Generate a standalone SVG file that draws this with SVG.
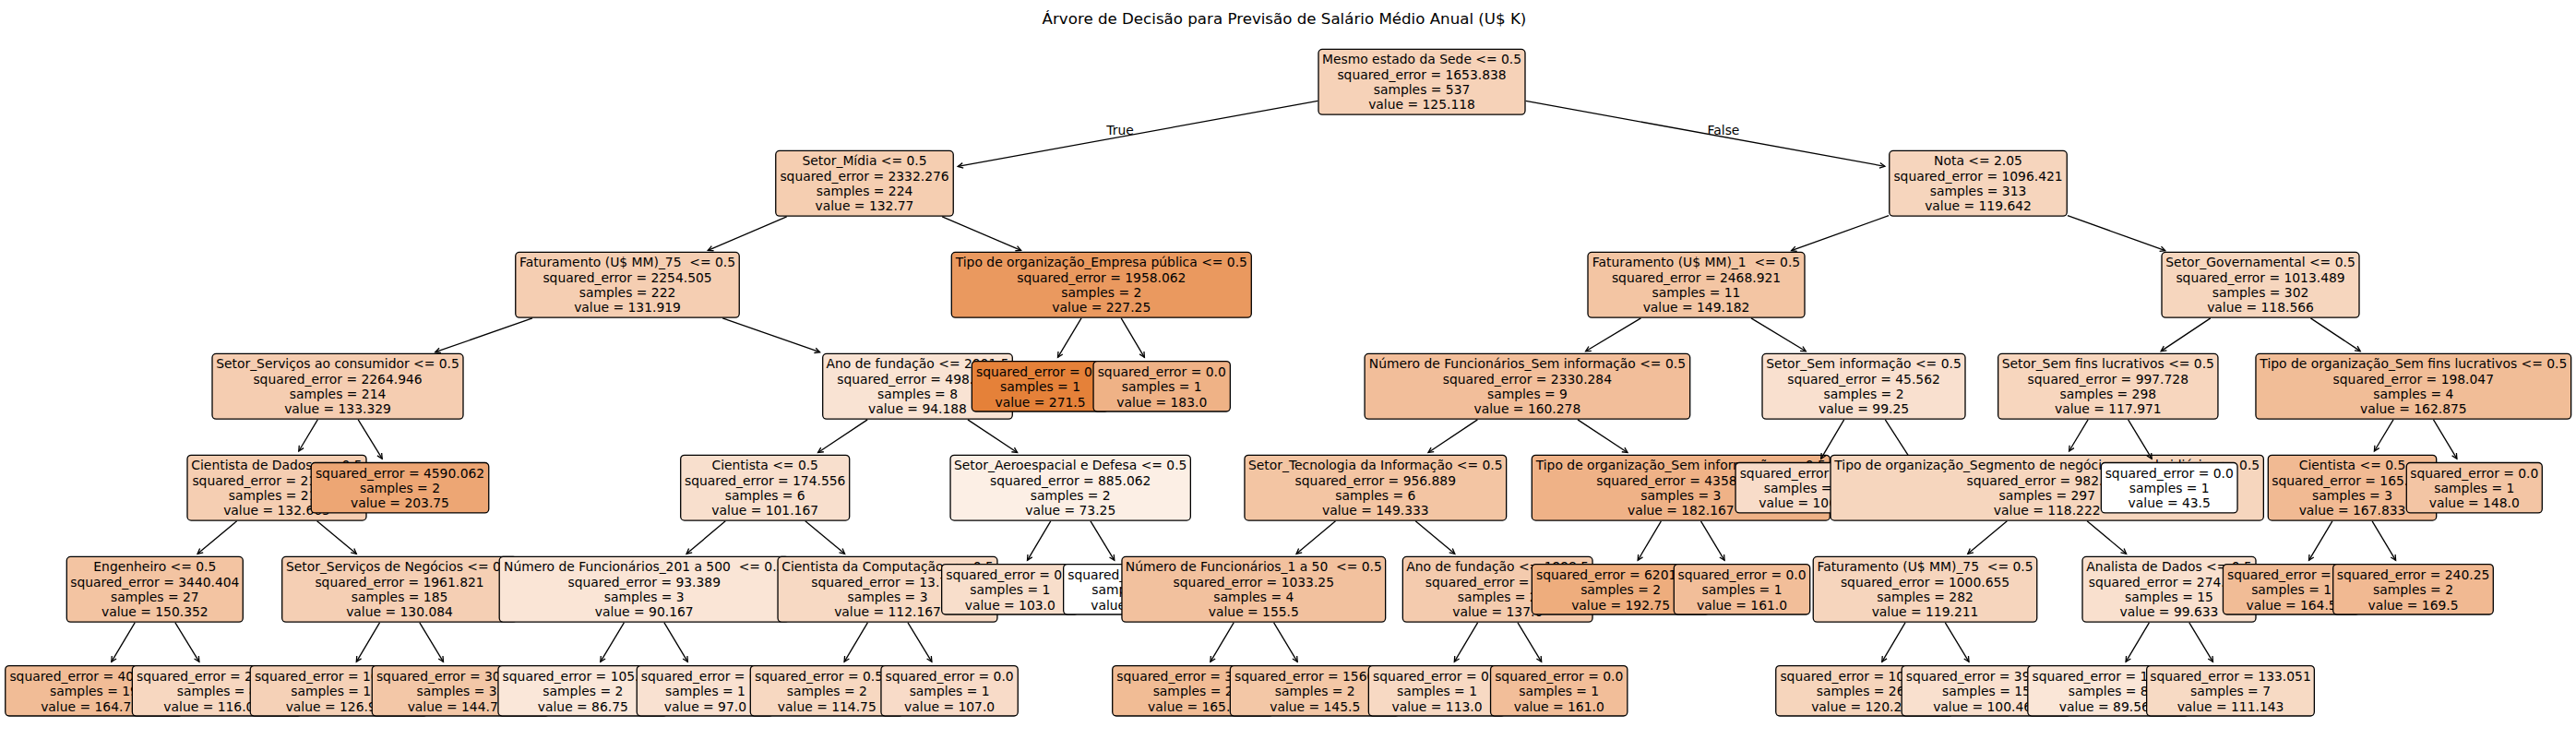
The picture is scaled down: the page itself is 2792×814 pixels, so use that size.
<svg xmlns="http://www.w3.org/2000/svg" width="2792" height="814" viewBox="0 0 2792 814">
<style>
text { font-family: "DejaVu Sans", "Liberation Sans", sans-serif; font-size: 13.89px; fill: #000; white-space: pre; }
.nd text { text-anchor: middle; }
.nd rect { stroke: #000; stroke-width: 1.3; }
.title { font-size: 16.67px; text-anchor: middle; }
.lbl { text-anchor: middle; }
#edges line { stroke: #000; stroke-width: 1.3; fill: none; marker-end: url(#ah); }
#edges line.cut { marker-end: none; }
</style>
<defs>
<marker id="ah" markerUnits="userSpaceOnUse" orient="auto" refX="0" refY="0" markerWidth="12" markerHeight="12" overflow="visible">
<path d="M-5.6,-2.8 L0,0 L-5.6,2.8" fill="none" stroke="#000" stroke-width="1.3"/>
</marker>
</defs>
<rect width="2792" height="814" fill="#fff"/>
<text class="title" x="1392" y="26">Árvore de Decisão para Previsão de Salário Médio Anual (U$ K)</text>
<g id="nodes">
<g id="n0" class="nd" transform="translate(1541,88.8)"><rect x="-112" y="-35.4" width="224" height="70.8" rx="4.2" fill="#f6d2b8"/><text y="-19.4">Mesmo estado da Sede &lt;= 0.5</text><text y="-3.1">squared_error = 1653.838</text><text y="13.2">samples = 537</text><text y="29.5">value = 125.118</text></g>
<g id="n1" class="nd" transform="translate(937,198.8)"><rect x="-96.25" y="-35.4" width="192.5" height="70.8" rx="4.2" fill="#f5ceb1"/><text y="-19.4">Setor_Mídia &lt;= 0.5</text><text y="-3.1">squared_error = 2332.276</text><text y="13.2">samples = 224</text><text y="29.5">value = 132.77</text></g>
<g id="n2" class="nd" transform="translate(680,308.8)"><rect x="-121.25" y="-35.4" width="242.5" height="70.8" rx="4.2" fill="#f5ceb2"/><text y="-19.4">Faturamento (U$ MM)_75  &lt;= 0.5</text><text y="-3.1">squared_error = 2254.505</text><text y="13.2">samples = 222</text><text y="29.5">value = 131.919</text></g>
<g id="n3" class="nd" transform="translate(366,418.8)"><rect x="-136" y="-35.4" width="272" height="70.8" rx="4.2" fill="#f5cdb1"/><text y="-19.4">Setor_Serviços ao consumidor &lt;= 0.5</text><text y="-3.1">squared_error = 2264.946</text><text y="13.2">samples = 214</text><text y="29.5">value = 133.329</text></g>
<g id="n4" class="nd" transform="translate(300,528.7)"><rect x="-97" y="-35.4" width="194" height="70.8" rx="4.2" fill="#f5ceb2"/><text y="-19.4">Cientista de Dados &lt;= 0.5</text><text y="-3.1">squared_error = 2195.785</text><text y="13.2">samples = 212</text><text y="29.5">value = 132.665</text></g>
<g id="n5" class="nd" transform="translate(167.8,638.8)"><rect x="-95.5" y="-35.4" width="191" height="70.8" rx="4.2" fill="#f3c4a2"/><text y="-19.4">Engenheiro &lt;= 0.5</text><text y="-3.1">squared_error = 3440.404</text><text y="13.2">samples = 27</text><text y="29.5">value = 150.352</text></g>
<g id="n6" class="nd" transform="translate(102,748.8)"><rect x="-96.25" y="-27.2" width="192.5" height="54.4" rx="4.2" fill="#f1bc96"/><text y="-10.8">squared_error = 4080.371</text><text y="5.5">samples = 19</text><text y="21.8">value = 164.789</text></g>
<g id="n7" class="nd" transform="translate(235.2,748.8)"><rect x="-91.85" y="-27.2" width="183.7" height="54.4" rx="4.2" fill="#f7d7c0"/><text y="-10.8">squared_error = 250.934</text><text y="5.5">samples = 8</text><text y="21.8">value = 116.064</text></g>
<g id="n8" class="nd" transform="translate(433,638.8)"><rect x="-127.3" y="-35.4" width="254.6" height="70.8" rx="4.2" fill="#f5cfb4"/><text y="-19.4">Setor_Serviços de Negócios &lt;= 0.5</text><text y="-3.1">squared_error = 1961.821</text><text y="13.2">samples = 185</text><text y="29.5">value = 130.084</text></g>
<g id="n9" class="nd" transform="translate(367.5,748.8)"><rect x="-96.25" y="-27.2" width="192.5" height="54.4" rx="4.2" fill="#f5d1b7"/><text y="-10.8">squared_error = 1668.947</text><text y="5.5">samples = 152</text><text y="21.8">value = 126.908</text></g>
<g id="n10" class="nd" transform="translate(499.5,748.8)"><rect x="-96.25" y="-27.2" width="192.5" height="54.4" rx="4.2" fill="#f3c7a7"/><text y="-10.8">squared_error = 3052.118</text><text y="5.5">samples = 33</text><text y="21.8">value = 144.713</text></g>
<g id="n11" class="nd" transform="translate(433.5,528.7)"><rect x="-96.25" y="-27.2" width="192.5" height="54.4" rx="4.2" fill="#eda674"/><text y="-10.8">squared_error = 4590.062</text><text y="5.5">samples = 2</text><text y="21.8">value = 203.75</text></g>
<g id="n12" class="nd" transform="translate(994.5,418.8)"><rect x="-102.8" y="-35.4" width="205.6" height="70.8" rx="4.2" fill="#f9e3d3"/><text y="-19.4">Ano de fundação &lt;= 2001.5</text><text y="-3.1">squared_error = 498.309</text><text y="13.2">samples = 8</text><text y="29.5">value = 94.188</text></g>
<g id="n13" class="nd" transform="translate(829.2,528.7)"><rect x="-91.5" y="-35.4" width="183" height="70.8" rx="4.2" fill="#f8dfcd"/><text y="-19.4">Cientista &lt;= 0.5</text><text y="-3.1">squared_error = 174.556</text><text y="13.2">samples = 6</text><text y="29.5">value = 101.167</text></g>
<g id="n14" class="nd" transform="translate(698.2,638.8)"><rect x="-157" y="-35.4" width="314" height="70.8" rx="4.2" fill="#fae5d6"/><text y="-19.4">Número de Funcionários_201 a 500  &lt;= 0.5</text><text y="-3.1">squared_error = 93.389</text><text y="13.2">samples = 3</text><text y="29.5">value = 90.167</text></g>
<g id="n15" class="nd" transform="translate(631.8,748.8)"><rect x="-91.85" y="-27.2" width="183.7" height="54.4" rx="4.2" fill="#fae7d9"/><text y="-10.8">squared_error = 105.062</text><text y="5.5">samples = 2</text><text y="21.8">value = 86.75</text></g>
<g id="n16" class="nd" transform="translate(764.4,748.8)"><rect x="-74.15" y="-27.2" width="148.3" height="54.4" rx="4.2" fill="#f9e1d1"/><text y="-10.8">squared_error = 0.0</text><text y="5.5">samples = 1</text><text y="21.8">value = 97.0</text></g>
<g id="n17" class="nd" transform="translate(962,638.8)"><rect x="-118.95" y="-35.4" width="237.9" height="70.8" rx="4.2" fill="#f7d9c3"/><text y="-19.4">Cientista da Computação &lt;= 0.5</text><text y="-3.1">squared_error = 13.722</text><text y="13.2">samples = 3</text><text y="29.5">value = 112.167</text></g>
<g id="n18" class="nd" transform="translate(896.3,748.8)"><rect x="-83" y="-27.2" width="166" height="54.4" rx="4.2" fill="#f7d8c1"/><text y="-10.8">squared_error = 0.562</text><text y="5.5">samples = 2</text><text y="21.8">value = 114.75</text></g>
<g id="n19" class="nd" transform="translate(1029.1,748.8)"><rect x="-74.15" y="-27.2" width="148.3" height="54.4" rx="4.2" fill="#f8dbc8"/><text y="-10.8">squared_error = 0.0</text><text y="5.5">samples = 1</text><text y="21.8">value = 107.0</text></g>
<g id="n20" class="nd" transform="translate(1160.2,528.7)"><rect x="-130.15" y="-35.4" width="260.3" height="70.8" rx="4.2" fill="#fcefe5"/><text y="-19.4">Setor_Aeroespacial e Defesa &lt;= 0.5</text><text y="-3.1">squared_error = 885.062</text><text y="13.2">samples = 2</text><text y="29.5">value = 73.25</text></g>
<g id="n21" class="nd" transform="translate(1094.8,638.8)"><rect x="-74.15" y="-27.2" width="148.3" height="54.4" rx="4.2" fill="#f8decb"/><text y="-10.8">squared_error = 0.0</text><text y="5.5">samples = 1</text><text y="21.8">value = 103.0</text></g>
<g id="n22" class="nd" transform="translate(1226.8,638.8)"><rect x="-74.15" y="-27.2" width="148.3" height="54.4" rx="4.2" fill="#ffffff"/><text y="-10.8">squared_error = 0.0</text><text y="5.5">samples = 1</text><text y="21.8">value = 43.5</text></g>
<g id="n23" class="nd" transform="translate(1193.8,308.8)"><rect x="-162.5" y="-35.4" width="325" height="70.8" rx="4.2" fill="#ea995f"/><text y="-19.4">Tipo de organização_Empresa pública &lt;= 0.5</text><text y="-3.1">squared_error = 1958.062</text><text y="13.2">samples = 2</text><text y="29.5">value = 227.25</text></g>
<g id="n24" class="nd" transform="translate(1127.5,418.8)"><rect x="-74.15" y="-27.2" width="148.3" height="54.4" rx="4.2" fill="#e58139"/><text y="-10.8">squared_error = 0.0</text><text y="5.5">samples = 1</text><text y="21.8">value = 271.5</text></g>
<g id="n25" class="nd" transform="translate(1259.2,418.8)"><rect x="-74.15" y="-27.2" width="148.3" height="54.4" rx="4.2" fill="#efb286"/><text y="-10.8">squared_error = 0.0</text><text y="5.5">samples = 1</text><text y="21.8">value = 183.0</text></g>
<g id="n26" class="nd" transform="translate(2144,198.8)"><rect x="-96.25" y="-35.4" width="192.5" height="70.8" rx="4.2" fill="#f6d5bd"/><text y="-19.4">Nota &lt;= 2.05</text><text y="-3.1">squared_error = 1096.421</text><text y="13.2">samples = 313</text><text y="29.5">value = 119.642</text></g>
<g id="n27" class="nd" transform="translate(1838.5,308.8)"><rect x="-117.5" y="-35.4" width="235" height="70.8" rx="4.2" fill="#f3c5a3"/><text y="-19.4">Faturamento (U$ MM)_1  &lt;= 0.5</text><text y="-3.1">squared_error = 2468.921</text><text y="13.2">samples = 11</text><text y="29.5">value = 149.182</text></g>
<g id="n28" class="nd" transform="translate(1655.4,418.8)"><rect x="-176.3" y="-35.4" width="352.6" height="70.8" rx="4.2" fill="#f2be9a"/><text y="-19.4">Número de Funcionários_Sem informação &lt;= 0.5</text><text y="-3.1">squared_error = 2330.284</text><text y="13.2">samples = 9</text><text y="29.5">value = 160.278</text></g>
<g id="n29" class="nd" transform="translate(1490.8,528.7)"><rect x="-141.85" y="-35.4" width="283.7" height="70.8" rx="4.2" fill="#f3c5a3"/><text y="-19.4">Setor_Tecnologia da Informação &lt;= 0.5</text><text y="-3.1">squared_error = 956.889</text><text y="13.2">samples = 6</text><text y="29.5">value = 149.333</text></g>
<g id="n30" class="nd" transform="translate(1358.8,638.8)"><rect x="-142.85" y="-35.4" width="285.7" height="70.8" rx="4.2" fill="#f2c19e"/><text y="-19.4">Número de Funcionários_1 a 50  &lt;= 0.5</text><text y="-3.1">squared_error = 1033.25</text><text y="13.2">samples = 4</text><text y="29.5">value = 155.5</text></g>
<g id="n31" class="nd" transform="translate(1293.1,748.8)"><rect x="-87.4" y="-27.2" width="174.8" height="54.4" rx="4.2" fill="#f1bc95"/><text y="-10.8">squared_error = 306.25</text><text y="5.5">samples = 2</text><text y="21.8">value = 165.5</text></g>
<g id="n32" class="nd" transform="translate(1425.2,748.8)"><rect x="-91.85" y="-27.2" width="183.7" height="54.4" rx="4.2" fill="#f3c7a6"/><text y="-10.8">squared_error = 1560.25</text><text y="5.5">samples = 2</text><text y="21.8">value = 145.5</text></g>
<g id="n33" class="nd" transform="translate(1623.2,638.8)"><rect x="-102.85" y="-35.4" width="205.7" height="70.8" rx="4.2" fill="#f4cbae"/><text y="-19.4">Ano de fundação &lt;= 1998.5</text><text y="-3.1">squared_error = 576.0</text><text y="13.2">samples = 2</text><text y="29.5">value = 137.0</text></g>
<g id="n34" class="nd" transform="translate(1557.5,748.8)"><rect x="-74.15" y="-27.2" width="148.3" height="54.4" rx="4.2" fill="#f7d9c3"/><text y="-10.8">squared_error = 0.0</text><text y="5.5">samples = 1</text><text y="21.8">value = 113.0</text></g>
<g id="n35" class="nd" transform="translate(1689.7,748.8)"><rect x="-74.15" y="-27.2" width="148.3" height="54.4" rx="4.2" fill="#f2be99"/><text y="-10.8">squared_error = 0.0</text><text y="5.5">samples = 1</text><text y="21.8">value = 161.0</text></g>
<g id="n36" class="nd" transform="translate(1821.8,528.7)"><rect x="-161.5" y="-35.4" width="323" height="70.8" rx="4.2" fill="#efb287"/><text y="-19.4">Tipo de organização_Sem informação &lt;= 0.5</text><text y="-3.1">squared_error = 4358.375</text><text y="13.2">samples = 3</text><text y="29.5">value = 182.167</text></g>
<g id="n37" class="nd" transform="translate(1756.6,638.8)"><rect x="-96.25" y="-27.2" width="192.5" height="54.4" rx="4.2" fill="#eead7d"/><text y="-10.8">squared_error = 6201.562</text><text y="5.5">samples = 2</text><text y="21.8">value = 192.75</text></g>
<g id="n38" class="nd" transform="translate(1888,638.8)"><rect x="-73.7" y="-27.2" width="147.4" height="54.4" rx="4.2" fill="#f2be99"/><text y="-10.8">squared_error = 0.0</text><text y="5.5">samples = 1</text><text y="21.8">value = 161.0</text></g>
<g id="n39" class="nd" transform="translate(2020,418.8)"><rect x="-110" y="-35.4" width="220" height="70.8" rx="4.2" fill="#f9e0cf"/><text y="-19.4">Setor_Sem informação &lt;= 0.5</text><text y="-3.1">squared_error = 45.562</text><text y="13.2">samples = 2</text><text y="29.5">value = 99.25</text></g>
<g id="n40" class="nd" transform="translate(1955.2,528.7)"><rect x="-74.15" y="-27.2" width="148.3" height="54.4" rx="4.2" fill="#f8dcc9"/><text y="-10.8">squared_error = 0.0</text><text y="5.5">samples = 1</text><text y="21.8">value = 106.0</text></g>
<g id="n41" class="nd" transform="translate(2450,308.8)"><rect x="-107" y="-35.4" width="214" height="70.8" rx="4.2" fill="#f6d6be"/><text y="-19.4">Setor_Governamental &lt;= 0.5</text><text y="-3.1">squared_error = 1013.489</text><text y="13.2">samples = 302</text><text y="29.5">value = 118.566</text></g>
<g id="n42" class="nd" transform="translate(2284.8,418.8)"><rect x="-119.15" y="-35.4" width="238.3" height="70.8" rx="4.2" fill="#f7d6be"/><text y="-19.4">Setor_Sem fins lucrativos &lt;= 0.5</text><text y="-3.1">squared_error = 997.728</text><text y="13.2">samples = 298</text><text y="29.5">value = 117.971</text></g>
<g id="n43" class="nd" transform="translate(2218.7,528.7)"><rect x="-234.65" y="-35.4" width="469.3" height="70.8" rx="4.2" fill="#f6d6be"/><text y="-19.4">Tipo de organização_Segmento de negócios ou subsidiária &lt;= 0.5</text><text y="-3.1">squared_error = 982.391</text><text y="13.2">samples = 297</text><text y="29.5">value = 118.222</text></g>
<g id="n44" class="nd" transform="translate(2086.5,638.8)"><rect x="-121.25" y="-35.4" width="242.5" height="70.8" rx="4.2" fill="#f6d5bd"/><text y="-19.4">Faturamento (U$ MM)_75  &lt;= 0.5</text><text y="-3.1">squared_error = 1000.655</text><text y="13.2">samples = 282</text><text y="29.5">value = 119.211</text></g>
<g id="n45" class="nd" transform="translate(2021,748.8)"><rect x="-96.25" y="-27.2" width="192.5" height="54.4" rx="4.2" fill="#f6d5bc"/><text y="-10.8">squared_error = 1013.866</text><text y="5.5">samples = 267</text><text y="21.8">value = 120.264</text></g>
<g id="n46" class="nd" transform="translate(2153,748.8)"><rect x="-91.85" y="-27.2" width="183.7" height="54.4" rx="4.2" fill="#f9e0ce"/><text y="-10.8">squared_error = 394.196</text><text y="5.5">samples = 15</text><text y="21.8">value = 100.467</text></g>
<g id="n47" class="nd" transform="translate(2351,638.8)"><rect x="-94" y="-35.4" width="188" height="70.8" rx="4.2" fill="#f9e0ce"/><text y="-19.4">Analista de Dados &lt;= 0.5</text><text y="-3.1">squared_error = 274.392</text><text y="13.2">samples = 15</text><text y="29.5">value = 99.633</text></g>
<g id="n48" class="nd" transform="translate(2285.2,748.8)"><rect x="-87.4" y="-27.2" width="174.8" height="54.4" rx="4.2" fill="#fae6d7"/><text y="-10.8">squared_error = 180.75</text><text y="5.5">samples = 8</text><text y="21.8">value = 89.562</text></g>
<g id="n49" class="nd" transform="translate(2417.5,748.8)"><rect x="-90.85" y="-27.2" width="181.7" height="54.4" rx="4.2" fill="#f7dac4"/><text y="-10.8">squared_error = 133.051</text><text y="5.5">samples = 7</text><text y="21.8">value = 111.143</text></g>
<g id="n50" class="nd" transform="translate(2351.2,528.7)"><rect x="-73.85" y="-27.2" width="147.7" height="54.4" rx="4.2" fill="#ffffff"/><text y="-10.8">squared_error = 0.0</text><text y="5.5">samples = 1</text><text y="21.8">value = 43.5</text></g>
<g id="n51" class="nd" transform="translate(2615.8,418.8)"><rect x="-170.85" y="-35.4" width="341.7" height="70.8" rx="4.2" fill="#f1bd97"/><text y="-19.4">Tipo de organização_Sem fins lucrativos &lt;= 0.5</text><text y="-3.1">squared_error = 198.047</text><text y="13.2">samples = 4</text><text y="29.5">value = 162.875</text></g>
<g id="n52" class="nd" transform="translate(2549.5,528.7)"><rect x="-91.2" y="-35.4" width="182.4" height="70.8" rx="4.2" fill="#f1ba93"/><text y="-19.4">Cientista &lt;= 0.5</text><text y="-3.1">squared_error = 165.722</text><text y="13.2">samples = 3</text><text y="29.5">value = 167.833</text></g>
<g id="n53" class="nd" transform="translate(2483.6,638.8)"><rect x="-74.15" y="-27.2" width="148.3" height="54.4" rx="4.2" fill="#f1bc96"/><text y="-10.8">squared_error = 0.0</text><text y="5.5">samples = 1</text><text y="21.8">value = 164.5</text></g>
<g id="n54" class="nd" transform="translate(2615.5,638.8)"><rect x="-86.8" y="-27.2" width="173.6" height="54.4" rx="4.2" fill="#f1b992"/><text y="-10.8">squared_error = 240.25</text><text y="5.5">samples = 2</text><text y="21.8">value = 169.5</text></g>
<g id="n55" class="nd" transform="translate(2681.8,528.7)"><rect x="-73.5" y="-27.2" width="147" height="54.4" rx="4.2" fill="#f3c5a4"/><text y="-10.8">squared_error = 0.0</text><text y="5.5">samples = 1</text><text y="21.8">value = 148.0</text></g>
</g>
<g id="edges">
<line x1="1428.3" y1="109.3" x2="1038.2" y2="180.4"/>
<line x1="1653.7" y1="109.3" x2="2042.9" y2="180.3"/>
<line x1="852.7" y1="234.9" x2="767.3" y2="271.4"/>
<line x1="1021.2" y1="234.9" x2="1106.6" y2="271.4"/>
<line x1="2047.1" y1="233.7" x2="1941.5" y2="271.7"/>
<line x1="2240.9" y1="233.6" x2="2346.8" y2="271.7"/>
<line x1="577" y1="344.9" x2="471.7" y2="381.7"/>
<line x1="783.2" y1="344.9" x2="888.6" y2="381.7"/>
<line x1="1172" y1="344.9" x2="1146.5" y2="387.3"/>
<line x1="1215.2" y1="344.9" x2="1240.4" y2="387.3"/>
<line x1="1778.4" y1="344.9" x2="1718.6" y2="380.8"/>
<line x1="1898" y1="344.9" x2="1957.3" y2="380.8"/>
<line x1="2395.8" y1="344.9" x2="2342.2" y2="380.6"/>
<line x1="2504.4" y1="344.9" x2="2558.2" y2="380.6"/>
<line x1="344.3" y1="454.9" x2="323.8" y2="489"/>
<line x1="388.2" y1="454.9" x2="414.2" y2="497.2"/>
<line x1="940.2" y1="454.9" x2="886.6" y2="490.5"/>
<line x1="1048.9" y1="454.9" x2="1102.6" y2="490.5"/>
<line x1="1601.4" y1="454.9" x2="1548" y2="490.5"/>
<line x1="1710" y1="454.9" x2="1764" y2="490.5"/>
<line x1="1998.7" y1="454.9" x2="1973.7" y2="497.2"/>
<line class="cut" x1="2043.3" y1="454.9" x2="2068.1" y2="493.3"/>
<line x1="2263.1" y1="454.9" x2="2242.6" y2="489"/>
<line x1="2306.6" y1="454.9" x2="2332.2" y2="497.2"/>
<line x1="2594" y1="454.9" x2="2573.4" y2="489"/>
<line x1="2637.5" y1="454.9" x2="2662.9" y2="497.2"/>
<line x1="256.65" y1="564.8" x2="214.1" y2="600.3"/>
<line x1="343.6" y1="564.8" x2="386.3" y2="600.3"/>
<line x1="786.25" y1="564.8" x2="744.1" y2="600.3"/>
<line x1="872.8" y1="564.8" x2="915.6" y2="600.3"/>
<line x1="1138.75" y1="564.8" x2="1113.5" y2="607.3"/>
<line x1="1182" y1="564.8" x2="1207.8" y2="607.3"/>
<line x1="1447.5" y1="564.8" x2="1405.1" y2="600.3"/>
<line x1="1534.2" y1="564.8" x2="1576.8" y2="600.3"/>
<line x1="1800.4" y1="564.8" x2="1775.2" y2="607.3"/>
<line x1="1843.5" y1="564.8" x2="1869.1" y2="607.3"/>
<line x1="2175.35" y1="564.8" x2="2132.8" y2="600.3"/>
<line x1="2262.1" y1="564.8" x2="2304.6" y2="600.3"/>
<line x1="2527.9" y1="564.8" x2="2502.5" y2="607.3"/>
<line x1="2571.1" y1="564.8" x2="2596.6" y2="607.3"/>
<line x1="146.2" y1="674.9" x2="120.8" y2="717.3"/>
<line x1="189.9" y1="674.9" x2="215.9" y2="717.3"/>
<line x1="411.5" y1="674.9" x2="386.3" y2="717.3"/>
<line x1="454.8" y1="674.9" x2="480.5" y2="717.3"/>
<line x1="676.4" y1="674.9" x2="650.8" y2="717.3"/>
<line x1="719.9" y1="674.9" x2="745.4" y2="717.3"/>
<line x1="940.4" y1="674.9" x2="915.1" y2="717.3"/>
<line x1="984" y1="674.9" x2="1009.9" y2="717.3"/>
<line x1="1337.2" y1="674.9" x2="1311.9" y2="717.3"/>
<line x1="1380.6" y1="674.9" x2="1406.2" y2="717.3"/>
<line x1="1601.6" y1="674.9" x2="1576.3" y2="717.3"/>
<line x1="1645" y1="674.9" x2="1670.7" y2="717.3"/>
<line x1="2065" y1="674.9" x2="2039.8" y2="717.3"/>
<line x1="2108.3" y1="674.9" x2="2134" y2="717.3"/>
<line x1="2329.4" y1="674.9" x2="2304.1" y2="717.3"/>
<line x1="2372.8" y1="674.9" x2="2398.5" y2="717.3"/>
</g>
<text class="lbl" x="1214" y="145.5">True</text>
<text class="lbl" x="1868" y="145.5">False</text>
</svg>
